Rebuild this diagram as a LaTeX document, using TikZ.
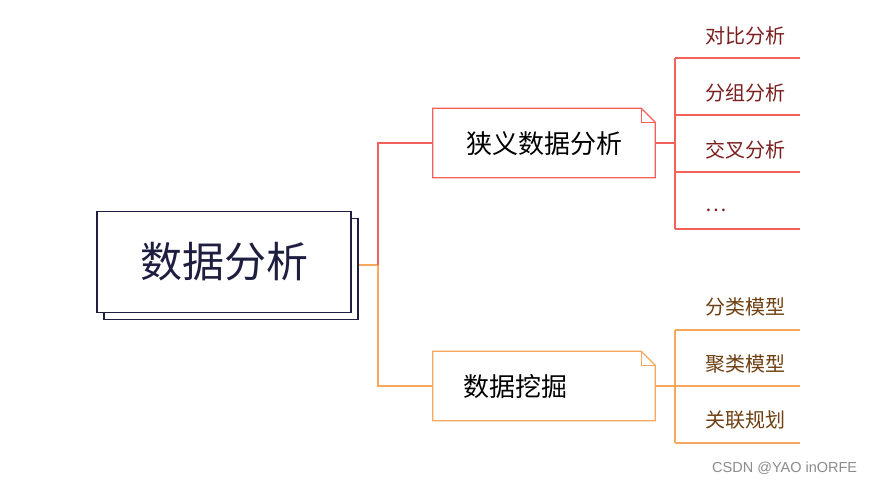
\documentclass[tikz,border=0pt]{standalone}
\usepackage{fontspec}
\setmainfont{Noto Sans CJK SC}
\newfontfamily\wmfont{Liberation Sans}
\definecolor{navy}{HTML}{1E1E40}
\definecolor{redl}{HTML}{F4605A}
\definecolor{redt}{HTML}{7A1E1E}
\definecolor{orl}{HTML}{F7A85E}
\definecolor{ort}{HTML}{6E4012}
\begin{document}
\begin{tikzpicture}[x=1pt,y=-1pt,
  leaf/.style={anchor=west,inner sep=0pt,font=\fontsize{20}{20}\selectfont},
  sub/.style={minimum width=222pt,minimum height=69pt,inner sep=0pt,font=\fontsize{26}{26}\selectfont},
]
\useasboundingbox[fill=white] (0,0) rectangle (873,484);
% main node
\node[draw=navy,line width=1.6pt,fill=white,minimum width=254pt,minimum height=101pt,inner sep=0pt] (shadow) at (231,269) {};
\node[draw=navy,line width=1.6pt,fill=white,minimum width=254pt,minimum height=101pt,inner sep=0pt,text=navy,font=\fontsize{42}{42}\selectfont] (main) at (224,262) {数据分析};
% sub nodes
\node[sub] (s1) at (544,143) {};
\node[sub] (s2) at (544,386) {};
\foreach \n/\c in {s1/redl,s2/orl}{
  \draw[\c,line width=1.2pt,fill=white] (\n.north west) -- ([xshift=-14pt]\n.north east) -- ([yshift=-14pt]\n.north east) -- (\n.south east) -- (\n.south west) -- cycle;
  \draw[\c,line width=1.2pt] ([xshift=-14pt]\n.north east) |- ([yshift=-14pt]\n.north east);
}
\node[inner sep=0pt,font=\fontsize{26}{26}\selectfont] (t1) at (544,144) {狭义数据分析};
\node[anchor=west,inner sep=0pt,font=\fontsize{26}{26}\selectfont] (t2) at (463,387) {数据挖掘};
% connectors from main
\coordinate (j) at (378,265);
\draw[orl,line width=1.2pt] (shadow.east |- j) -- (j);
\draw[redl,line width=1.2pt] (j) |- (s1.west);
\draw[orl,line width=1.2pt] (j) |- (s2.west);
% red leaves
\coordinate (r) at (675,143);
\draw[redl,line width=1.2pt] (s1.east) -- (r);
\draw[redl,line width=1.2pt] (675,58) -- (675,229);
\foreach \y in {58,115,172,229}{\draw[redl,line width=1.2pt] (675,\y) -- (800,\y);}
\node[leaf,text=redt] (l1) at (705,36) {对比分析};
\node[leaf,text=redt] (l2) at (705,93) {分组分析};
\node[leaf,text=redt] (l3) at (705,150) {交叉分析};
\node[leaf,text=redt] (l4) at (705,210) {…};
% orange leaves
\coordinate (o) at (675,386);
\draw[orl,line width=1.2pt] (s2.east) -- (o);
\draw[orl,line width=1.2pt] (675,330) -- (675,443);
\foreach \y in {330,386,443}{\draw[orl,line width=1.2pt] (675,\y) -- (800,\y);}
\node[leaf,text=ort] (m1) at (705,307) {分类模型};
\node[leaf,text=ort] (m2) at (705,364) {聚类模型};
\node[leaf,text=ort] (m3) at (705,420) {关联规划};
% watermark
\node[anchor=west,inner sep=0pt,text=black!45,font=\wmfont\fontsize{14.5}{14.5}\selectfont] (wm) at (712,468) {CSDN @YAO inORFE};
\end{tikzpicture}
\end{document}
